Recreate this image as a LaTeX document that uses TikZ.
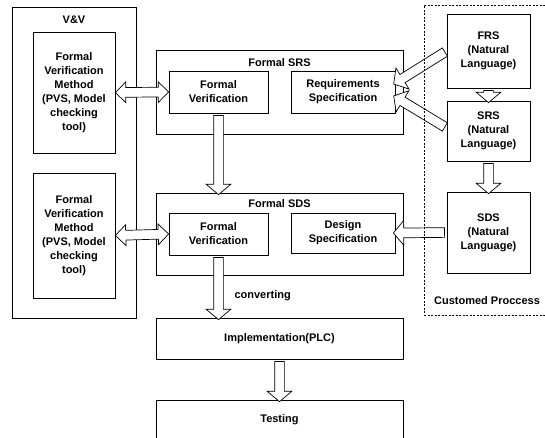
\documentclass[tikz,border=0pt]{standalone}
\usepackage{fontspec}
\setmainfont{Liberation Sans}
\usetikzlibrary{positioning,calc,shapes.arrows}

% hollow block arrow between two points
\newcommand{\fatconnect}[4]{%
  \path let \p1=($(#4)-(#3)$), \n1={veclen(\x1,\y1)}, \n2={atan2(\y1,\x1)} in
    node[#1, minimum height=\n1, rotate=\n2] (#2) at ($(#3)!0.5!(#4)$) {};}

\begin{document}
\begin{tikzpicture}[x=1pt, y=-1pt,
every node/.style={font=\fontsize{11}{14}\selectfont\bfseries},
outerbox/.style={rectangle, draw, line width=0.8pt, inner sep=0pt},
squarednode/.style={rectangle, draw, line width=0.8pt, align=center, inner sep=0pt},
dashedbox/.style={rectangle, draw, line width=0.7pt, dash pattern=on 2pt off 1.5pt, inner sep=0pt},
fatarrow/.style={single arrow, draw, fill=white, line width=0.7pt, inner xsep=0pt, inner ysep=4.5pt, single arrow head extend=7.5pt, single arrow tip angle=100},
fatdarrow/.style={double arrow, draw, fill=white, line width=0.7pt, inner xsep=0pt, inner ysep=4.5pt, double arrow head extend=5.5pt},
]
\useasboundingbox (0,0) rectangle (545,438);
\clip (0,0) rectangle (545,438);

%Outer boxes
\node[outerbox, minimum width=124, minimum height=311] (VV)      at (74,162.5)  {};
\node[outerbox, minimum width=247, minimum height=84]  (SRSbox)  at (279.5,92)  {};
\node[outerbox, minimum width=247, minimum height=82]  (SDSbox)  at (279.5,234) {};
\node[outerbox, minimum width=247, minimum height=41]  (Impl)    at (279.5,338.5) {Implementation(PLC)};
\node[outerbox, minimum width=247, minimum height=40]  (Testing) at (279.5,420) {Testing};

\node (VVlabel)  at (74,20)     {V\&V};
\node (SRSlabel) at (279.5,63)  {Formal SRS};
\node (SDSlabel) at (279.5,204) {Formal SDS};

%Nodes
\node[squarednode, minimum width=82, minimum height=121] (Method1) at (74,92.5)
  {Formal\\Verification\\Method\\(PVS, Model\\checking\\tool)};
\node[squarednode, minimum width=82, minimum height=125] (Method2) at (74,235.5)
  {Formal\\Verification\\Method\\(PVS, Model\\checking\\tool)};
\node[squarednode, minimum width=99, minimum height=42]  (FV1)     at (218.5,92)  {Formal\\Verification};
\node[squarednode, minimum width=104, minimum height=42] (ReqSpec) at (343,92)    {Requirements\\Specification};
\node[squarednode, minimum width=99, minimum height=42]  (FV2)     at (218.5,234) {Formal\\Verification};
\node[squarednode, minimum width=104, minimum height=40] (DesSpec) at (343,233)   {Design\\Specification};
\node[squarednode, minimum width=83, minimum height=74]  (FRS)     at (488.5,51)    {FRS\\(Natural\\Language)};
\node[squarednode, minimum width=83, minimum height=60]  (SRS)     at (488.5,131) {SRS\\(Natural\\Language)};
\node[squarednode, minimum width=83, minimum height=81]  (SDS)     at (488.5,232.5) {SDS\\(Natural\\Language)};

%Lines
\fatconnect{fatdarrow}{a1}{Method1.east}{FV1.west}
\fatconnect{fatdarrow}{a2}{Method2.east}{FV2.west}
\fatconnect{fatarrow}{a3}{FV1.south}{FV1.south |- SDSbox.north}
\fatconnect{fatarrow}{a4}{FV2.south}{FV2.south |- Impl.north}
\fatconnect{fatarrow}{a5}{Impl.south}{Testing.north}
\fatconnect{fatarrow}{a6}{FRS.south}{SRS.north}
\fatconnect{fatarrow}{a7}{SRS.south}{SDS.north}
\fatconnect{fatarrow}{a8}{FRS.west}{[yshift=9pt]ReqSpec.east}
\fatconnect{fatarrow}{a9}{[yshift=3pt]SRS.west}{[yshift=-5pt]ReqSpec.east}
\fatconnect{fatarrow}{a10}{SDS.west}{DesSpec.east}
\node[anchor=west] (conv) at (231,296) {converting};

%Customed process
\node[dashedbox, minimum width=140, minimum height=310] (Custom) at (494,160) {};
\node (Customlabel) at (487,301) {Customed Proccess};
\end{tikzpicture}
\end{document}
